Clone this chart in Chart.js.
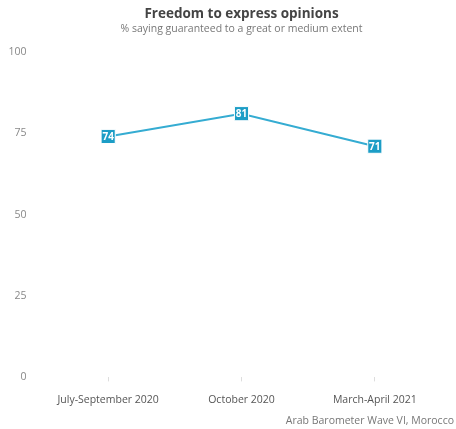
<!DOCTYPE html>
<html>
<head>
<meta charset="utf-8">
<script src="https://cdn.jsdelivr.net/npm/chart.js@4"></script>
<style>
  html, body { margin: 0; padding: 0; background: #fff; }
  #wrap { width: 456px; height: 429px; }
</style>
</head>
<body>
<div id="wrap"><canvas id="main-chart" width="456" height="429"></canvas></div>
<script>
const categories = ['July-September 2020', 'October 2020', 'March-April 2021'];
const values     = [74, 81, 71];
const yTicks     = [0, 25, 50, 75, 100];

const FONT = "'Open Sans', 'DejaVu Sans', sans-serif";
const LINE = '#35acd2';
const BOX  = '#1c9dc6';

// White number inside each square marker
const valueLabels = {
  id: 'valueLabels',
  afterDatasetsDraw(chart) {
    const ctx  = chart.ctx;
    const meta = chart.getDatasetMeta(0);
    ctx.save();
    ctx.font = `bold 10px ${FONT}`;
    ctx.fillStyle = '#fff';
    ctx.textAlign = 'center';
    ctx.textBaseline = 'middle';
    meta.data.forEach((pt, i) => {
      ctx.fillText(String(values[i]), pt.x, pt.y + 0.5);
    });
    ctx.restore();
  }
};

// Source note, bottom right
const sourceNote = {
  id: 'sourceNote',
  afterDraw(chart) {
    const ctx = chart.ctx;
    ctx.save();
    ctx.font = `10.5px ${FONT}`;
    ctx.fillStyle = '#777';
    ctx.textAlign = 'right';
    ctx.textBaseline = 'middle';
    ctx.fillText('Arab Barometer Wave VI, Morocco', chart.width - 2, 421);
    ctx.restore();
  }
};

new Chart(document.getElementById('main-chart'), {
  type: 'line',
  data: {
    labels: categories,
    datasets: [{
      data: values,
      borderColor: LINE,
      borderWidth: 2,
      tension: 0,
      pointStyle: 'rect',
      pointRadius: 10,
      pointBackgroundColor: BOX,
      pointBorderColor: '#ffffff',
      pointBorderWidth: 1,
      fill: false,
    }]
  },
  options: {
    responsive: false,
    animation: false,
    layout: { padding: { left: 0, right: 14.5, top: 6, bottom: 11 } },
    plugins: {
      legend: { display: false },
      tooltip: { enabled: false },
      title: {
        display: true,
        fullSize: false,
        text: 'Freedom to express opinions',
        color: '#444',
        font: { family: FONT, size: 13.5, weight: 'bold' },
        padding: { top: 0, bottom: 0 },
      },
      subtitle: {
        display: true,
        fullSize: false,
        text: '% saying guaranteed to a great or medium extent',
        color: '#777',
        font: { family: FONT, size: 10.5 },
        padding: { top: 1, bottom: 16 },
      },
    },
    scales: {
      x: {
        offset: true,
        afterFit: s => { s.paddingLeft = 0; s.paddingRight = 0; },
        grid: { display: true, drawOnChartArea: false, drawTicks: true, tickLength: 4, color: '#ddd' },
        border: { display: false },
        ticks: { color: '#555', font: { family: FONT, size: 10.5 }, maxRotation: 0, autoSkip: false, padding: 12 },
      },
      y: {
        min: 0,
        max: 100,
        afterBuildTicks: axis => { axis.ticks = yTicks.map(v => ({ value: v })); },
        afterFit: axis => { axis.width = 41.5; },
        grid: { display: false, drawTicks: false },
        border: { display: false },
        ticks: { color: '#888', font: { family: FONT, size: 10.5 }, padding: 15 },
      }
    }
  },
  plugins: [valueLabels, sourceNote]
});
</script>
</body>
</html>
